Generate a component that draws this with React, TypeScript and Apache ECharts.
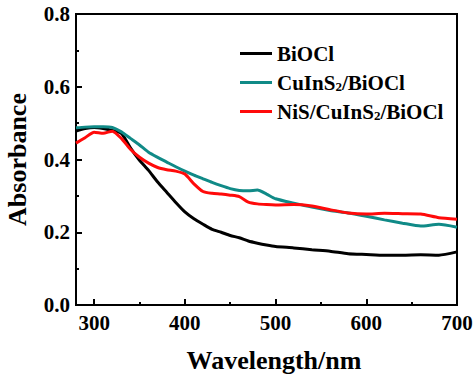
import React, { useEffect, useRef } from "react";
import * as echarts from "echarts";

const wavelengths = [280, 290, 300, 310, 320, 330, 340, 350, 360, 370, 380, 390, 400, 410, 420, 430, 440, 450, 460, 470, 480, 490, 500, 520, 540, 560, 580, 600, 620, 640, 660, 680, 700];

const biocl = [0.478, 0.485, 0.488, 0.485, 0.480, 0.472, 0.432, 0.398, 0.370, 0.338, 0.310, 0.282, 0.256, 0.237, 0.222, 0.208, 0.200, 0.191, 0.185, 0.176, 0.170, 0.165, 0.161, 0.157, 0.152, 0.148, 0.141, 0.139, 0.137, 0.137, 0.138, 0.137, 0.146];

const cuins2 = [0.487, 0.489, 0.490, 0.490, 0.488, 0.476, 0.458, 0.440, 0.420, 0.406, 0.393, 0.380, 0.368, 0.357, 0.347, 0.337, 0.328, 0.320, 0.315, 0.314, 0.316, 0.305, 0.292, 0.280, 0.269, 0.260, 0.253, 0.244, 0.234, 0.225, 0.217, 0.222, 0.214];

const nis = [0.445, 0.460, 0.475, 0.472, 0.478, 0.458, 0.428, 0.406, 0.390, 0.378, 0.372, 0.368, 0.360, 0.333, 0.312, 0.307, 0.305, 0.302, 0.298, 0.283, 0.278, 0.276, 0.275, 0.276, 0.272, 0.262, 0.253, 0.250, 0.252, 0.251, 0.250, 0.240, 0.236];

const seriesNames = ["BiOCl", "CuInS2/BiOCl", "NiS/CuInS2/BiOCl"];
const seriesColors = ["#000000", "#108a87", "#ff0a0a"];
const xMajorTicks = [300, 400, 500, 600, 700];
const xMinorTicks = [350, 450, 550, 650];

const FONT = "Liberation Serif";

export default function App() {
  const ref = useRef<HTMLDivElement>(null);
  useEffect(() => {
    if (!ref.current) return;
    const chart = echarts.init(ref.current, undefined, { renderer: "svg" });
    const allData = [biocl, cuins2, nis];
    const labelStyle = {
      fontFamily: FONT,
      fontWeight: "bold",
      fontSize: 21,
      color: "#000",
    };
    chart.setOption({
      animation: false,
      backgroundColor: "#ffffff",
      textStyle: { fontFamily: FONT, fontWeight: "bold", color: "#000" },
      grid: {
        left: 76,
        right: 17,
        top: 14,
        bottom: 71,
        show: true,
        borderColor: "#000",
        borderWidth: 2,
        outerBoundsMode: "none",
      },
      legend: {
        orient: "vertical",
        left: 235,
        top: 38,
        itemWidth: 32,
        itemHeight: 14,
        itemGap: 7,
        data: seriesNames.map((n, i) => ({
          name: n,
          icon: "path://M0,6 L32,6 L32,9 L0,9 Z",
          itemStyle: { color: seriesColors[i] },
        })),
        formatter: (name: string) => name.replace(/2/g, "{sub|2}"),
        textStyle: {
          fontFamily: FONT,
          fontWeight: "bold",
          fontSize: 21,
          lineHeight: 21,
          color: "#000",
          rich: {
            sub: {
              fontFamily: FONT,
              fontWeight: "bold",
              fontSize: 13,
              lineHeight: 21,
              verticalAlign: "bottom",
              padding: [9, 0, 0, 0],
              color: "#000",
            },
          },
        },
      },
      xAxis: [
        {
          type: "value",
          min: 280,
          max: 700,
          name: "Wavelength/nm",
          nameLocation: "middle",
          nameGap: 42,
          nameTextStyle: {
            fontFamily: FONT,
            fontWeight: "bold",
            fontSize: 26,
            color: "#000",
            padding: [0, 0, 0, 15],
          },
          axisLine: { show: true, lineStyle: { color: "#000", width: 2 } },
          axisTick: {
            show: true,
            inside: true,
            length: 6,
            lineStyle: { color: "#000", width: 2 },
            customValues: xMajorTicks,
          },
          axisLabel: {
            ...labelStyle,
            customValues: xMajorTicks,
            margin: 7,
            formatter: (v: number) => `{t|${v}}`,
            rich: { t: { ...labelStyle } },
          },
          splitLine: { show: false },
        },
        {
          type: "value",
          min: 280,
          max: 700,
          position: "bottom",
          axisLine: { show: false },
          axisTick: {
            show: true,
            inside: true,
            length: 3,
            lineStyle: { color: "#000", width: 2 },
            customValues: xMinorTicks,
          },
          axisLabel: { show: false },
          splitLine: { show: false },
        },
      ],
      yAxis: {
        type: "value",
        min: 0,
        max: 0.8,
        interval: 0.2,
        name: "Absorbance",
        nameLocation: "middle",
        nameGap: 46,
        nameTextStyle: {
          fontFamily: FONT,
          fontWeight: "bold",
          fontSize: 26,
          color: "#000",
        },
        axisLine: { show: true, lineStyle: { color: "#000", width: 2 } },
        axisTick: {
          show: true,
          inside: true,
          length: 6,
          lineStyle: { color: "#000", width: 2 },
        },
        minorTick: {
          show: true,
          splitNumber: 2,
          length: 3,
          lineStyle: { color: "#000", width: 2 },
        },
        axisLabel: {
          ...labelStyle,
          margin: 6,
          formatter: (v: number) => `{t|${v.toFixed(1)}}`,
          rich: { t: { ...labelStyle } },
        },
        splitLine: { show: false },
      },
      series: seriesNames.map((n, i) => ({
        name: n,
        type: "line",
        xAxisIndex: 0,
        symbol: "none",
        showSymbol: false,
        smooth: 0.2,
        lineStyle: { color: seriesColors[i], width: 3 },
        itemStyle: { color: seriesColors[i] },
        data: wavelengths.map((w, k) => [w, allData[i][k]]),
      })),
    });
    return () => chart.dispose();
  }, []);
  return (
    <div
      ref={ref}
      style={{ position: "fixed", left: 0, top: 0, width: 474, height: 376, background: "#fff" }}
    />
  );
}
